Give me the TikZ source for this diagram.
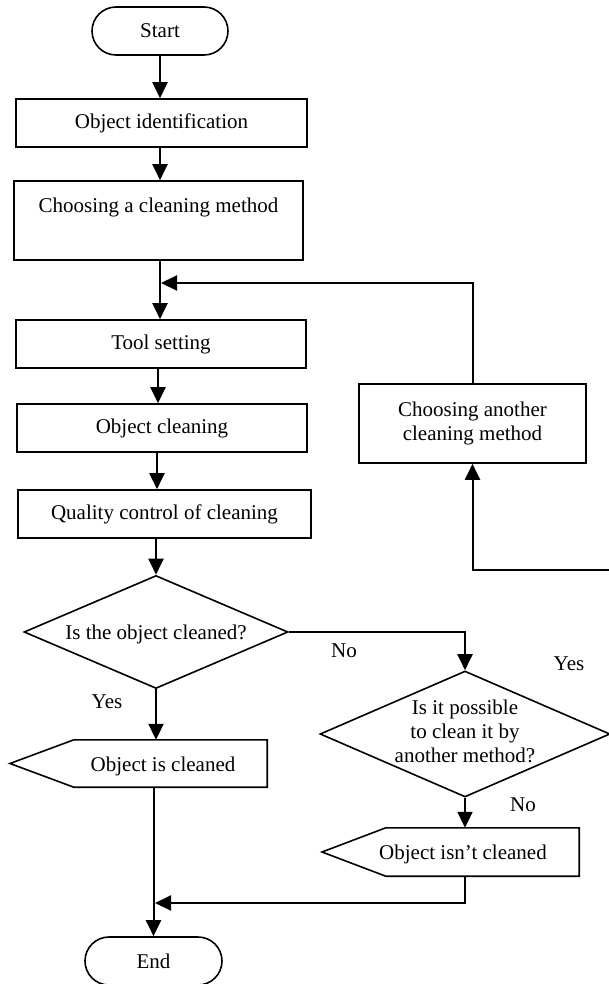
\documentclass[tikz,border=0pt]{standalone}
\usepackage{fontspec}
\setmainfont{Liberation Serif}
\usetikzlibrary{arrows.meta,shapes.geometric,calc}
\begin{document}
\begin{tikzpicture}[x=1pt,y=-1pt,
  font=\fontsize{21}{24}\selectfont,
  box/.style={draw,line width=1.6pt,rectangle,inner sep=0pt},
  term/.style={draw,line width=1.6pt,rectangle,rounded corners=24pt,inner sep=0pt,minimum height=48pt},
  dec/.style={draw,line width=1.6pt,diamond,inner sep=0pt},
  plain/.style={inner sep=0pt},
  conn/.style={line width=2pt,-{Triangle[length=16pt,width=15pt]}},
  wire/.style={line width=2pt},
  outline/.style={line width=1.6pt,line join=miter}]
\useasboundingbox (0,0) rectangle (608,984);

% terminals and boxes
\node[term, minimum width=136pt] (start) at (160,31) {Start};
\node[box, minimum width=291pt, minimum height=48pt] (oid) at (161.5,123) {Object identification};
\node[box, minimum width=289pt, minimum height=79pt] (cm) at (158.5,220.5) {};
\node[plain] (cmt) at (158.5,207) {Choosing a cleaning method};
\node[box, minimum width=290pt, minimum height=48pt] (tool) at (161,344) {Tool setting};
\node[box, minimum width=290pt, minimum height=48pt] (ocl) at (162,428) {Object cleaning};
\node[box, minimum width=293pt, minimum height=48pt] (qc) at (164.5,514) {Quality control of cleaning};
\node[box, minimum width=227pt, minimum height=79pt, align=center] (another) at (472.5,423.5) {Choosing another\\cleaning method};

% decisions
\node[dec, minimum width=264pt, minimum height=113pt] (d1) at (156,632) {};
\node[plain] (d1t) at (156,634) {Is the object cleaned?};
\node[dec, minimum width=290pt, minimum height=126pt] (d2) at (465,734) {};
\node[plain, align=center] (d2t) at (465,731) {Is it possible\\to clean it by\\another method?};

% outputs (display shapes)
\node[plain, minimum width=193pt, minimum height=47pt] (ocr) at (170.5,763.5) {};
\coordinate (ocp) at (10,763.5);
\draw[outline] (ocr.north west) -- (ocr.north east) -- (ocr.south east) -- (ocr.south west) -- (ocp) -- cycle;
\node[plain] (oct) at (163,766) {Object is cleaned};

\node[plain, minimum width=193pt, minimum height=48pt] (oinr) at (482.5,852) {};
\coordinate (oinp) at (322,852);
\draw[outline] (oinr.north west) -- (oinr.north east) -- (oinr.south east) -- (oinr.south west) -- (oinp) -- cycle;
\node[plain] (oint) at (463,854) {Object isn't cleaned};

\node[term, minimum width=137pt] (end) at (153.5,961) {End};

% labels
\node[plain] (lno1) at (344,651) {No};
\node[plain] (lyes1) at (569,664) {Yes};
\node[plain] (lyes2) at (107,702) {Yes};
\node[plain] (lno2) at (523,805) {No};

% coordinates
\coordinate (fb) at (161,283);
\coordinate (redge) at (612,570);
\coordinate (mj) at (155,903);

% connectors
\draw[conn] (start.south) -- (start.south |- oid.north);
\draw[conn] (start.south |- oid.south) -- (start.south |- cm.north);
\draw[conn] (start.south |- cm.south) -- (start.south |- tool.north);
\draw[conn] (158,0 |- tool.south) -- (158,0 |- ocl.north);
\draw[conn] (157,0 |- ocl.south) -- (157,0 |- qc.north);
\draw[conn] (d1.north |- qc.south) -- (d1.north);
\draw[conn] (another.north) |- (fb);
\draw[conn] (redge) -| (another.south);
\draw[conn] (d1.east) -| (d2.north);
\draw[conn] (d1.south) -- (d1.south |- ocr.north);
\draw[conn] (d2.south) -- (d2.south |- oinr.north);
\draw[conn] (end.north |- ocr.south) -- (end.north);
\draw[conn] (d2.south |- oinr.south) |- (mj);
\end{tikzpicture}
\end{document}
